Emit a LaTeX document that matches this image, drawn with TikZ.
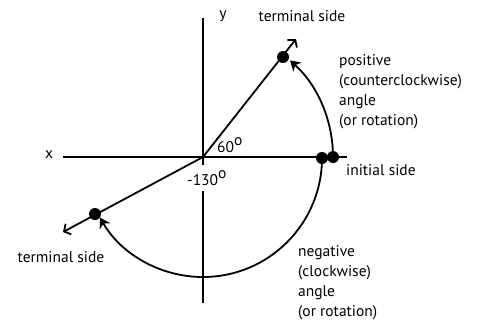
\documentclass[tikz,border=0pt]{standalone}
\usepackage{fontspec}
\setmainfont{PT Sans}
\usetikzlibrary{arrows.meta}
\begin{document}
\begin{tikzpicture}[x=1pt,y=-1pt,
  axis/.style={line width=2pt},
  ray/.style={line width=1.8pt,-{Straight Barb[length=5pt,width=12pt,line width=1.8pt]}},
  turn/.style={line width=1.8pt,-{Stealth[length=10pt,width=12pt,inset=3pt]}},
  dot/.style={circle,fill=black,inner sep=0pt,minimum size=12pt},
  lbl/.style={font=\fontsize{15.5}{20.2}\selectfont,inner sep=0pt},
  blk/.style={lbl,align=left,anchor=north west}]
\useasboundingbox (0,0) rectangle (479,322);
\coordinate (O) at (203,157);
\coordinate (xl) at (63,157);
\coordinate (xr) at (347,157);
\coordinate (yt) at (203,18);
\coordinate (yb) at (203,303);
\coordinate (tA) at (296,39);
\coordinate (tB) at (63,232);
\draw[axis] (xl) -- (xr);
\draw[axis] (yt) -- (yb);
\node[lbl,anchor=west,fill=white,inner ysep=5pt,inner xsep=1pt] (l130) at (186,178) {-130\raisebox{0.45em}{o}};
\draw[ray] (O) -- (tA);
\draw[ray] (O) -- (tB);
\node[dot] (dA) at (283,57) {};
\node[dot] (dB) at (95,214) {};
\node[dot] (dP) at (333,157) {};
\node[dot] (dN) at (322,158) {};
\draw[turn] (dP.center) arc[start angle=0,end angle=48,radius=130pt];
\draw[turn] (dN.center) arc[start angle=0,end angle=-150,radius=119pt];
\node[lbl] (lx) at (49,155) {x};
\node[lbl] (ly) at (223,16) {y};
\node[lbl] (ltA) at (302,16) {terminal side};
\node[lbl] (ltB) at (61,257) {terminal side};
\node[lbl,anchor=west] (lin) at (346,170) {initial side};
\node[blk] (lpos) at (339,54) {positive\\(counterclockwise)\\angle\\(or rotation)};
\node[blk] (lneg) at (298,245) {negative\\(clockwise)\\angle\\(or rotation)};
\node[lbl,anchor=west] (l60) at (217,145) {60\raisebox{0.45em}{o}};
\end{tikzpicture}
\end{document}
